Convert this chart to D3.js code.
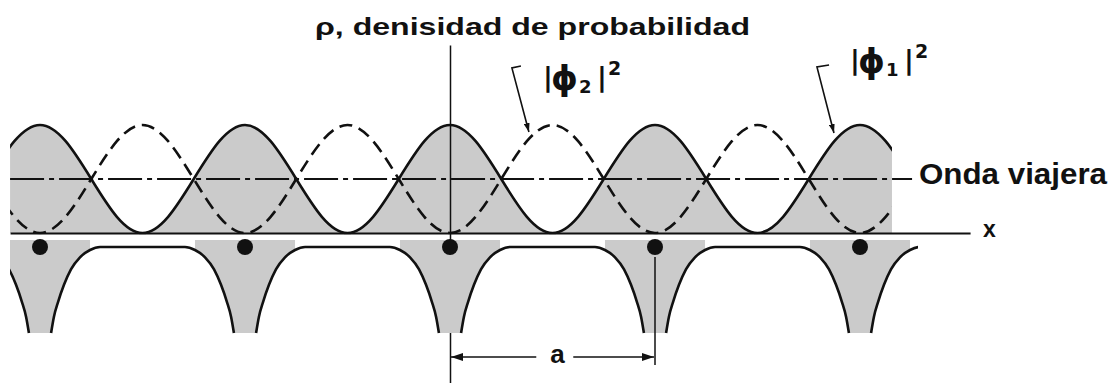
<!DOCTYPE html>
<html>
<head>
<meta charset="utf-8">
<title>Densidad de probabilidad</title>
<style>
  body { margin: 0; background: #fff; }
  text { font-family: "Liberation Sans", Arial, sans-serif; font-weight: bold; fill: #111; }
  .sym { font-family: "DejaVu Sans", sans-serif; }
</style>
</head>
<body>
<div id="viz"></div>
<script src="https://d3js.org/d3.v7.min.js"></script>
<script>
// lattice positions (units of a) and one period of each density
const ions = [-2, -1, 0, 1, 2];
const phaseSteps = [0, 0.125, 0.25, 0.375, 0.5, 0.625, 0.75, 0.875];
const phi1Profile = [1.00, 0.85, 0.50, 0.15, 0.00, 0.15, 0.50, 0.85];
const phi2Profile = [0.00, 0.15, 0.50, 0.85, 1.00, 0.85, 0.50, 0.15];
const travelling = 0.5;

// potential well: distance from ion (units of a) -> relative depth
const wellDist = [0.054, 0.068, 0.088, 0.117, 0.151, 0.195, 0.244, 0.293, 0.5];
const wellDepth = [-1.00, -0.81, -0.64, -0.44, -0.26, -0.12, -0.035, 0, 0];
const haloTop = 0.08;
const haloReach = 6; // last wellDist index shaded

// extents along x (units of a)
const curveRange = [-2.146, 2.156];
const waveRange = [-2.146, 2.254];
const potRange = [-2.146, 2.283];
const axisRange = [-2.146, 2.537];
const rhoAxisRange = [-1.39, 1.74];

// annotations (units of a, rho)
const leaders = [
  { pts: [[0.346, 1.546], [0.302, 1.528], [0.385, 0.935]] },
  { pts: [[1.849, 1.556], [1.790, 1.537], [1.873, 0.926]] }
];
const labels = [
  { u: 0.454, rho: 1.361, sub: '2' },
  { u: 1.951, rho: 1.519, sub: '1' }
];
const dimension = [0, 1];

const width = 1115, height = 383;

const svg = d3.select('#viz').append('svg')
  .attr('width', width)
  .attr('height', height);

const x = d3.scaleLinear().domain([-2, 2]).range([40, 860]);
const rho = d3.scaleLinear().domain([0, 1]).range([233, 125]);
const v = d3.scaleLinear().domain([-1, 0]).range([333, 247]);

const ink = '#111';
const grey = '#cbcbcb';

const defs = svg.append('defs');
defs.append('clipPath').attr('id', 'clipTop')
  .append('rect')
  .attr('x', x(curveRange[0])).attr('y', 0)
  .attr('width', x(curveRange[1]) - x(curveRange[0]))
  .attr('height', rho(0) + 1.5);
defs.append('clipPath').attr('id', 'clipBottom')
  .append('rect')
  .attr('x', x(potRange[0])).attr('y', rho(0) + 2)
  .attr('width', x(potRange[1]) - x(potRange[0]))
  .attr('height', 200);

function arrowMarker(id, len, half) {
  defs.append('marker')
    .attr('id', id)
    .attr('markerUnits', 'userSpaceOnUse')
    .attr('viewBox', `0 0 ${len} ${half * 2}`)
    .attr('refX', len).attr('refY', half)
    .attr('markerWidth', len).attr('markerHeight', half * 2)
    .attr('orient', 'auto')
    .append('path')
    .attr('d', `M0,0L${len},${half}L0,${half * 2}Z`)
    .attr('fill', ink);
}
arrowMarker('arrowSmall', 9, 3);
arrowMarker('arrowDim', 12, 4);

// periodic samples of a density profile
function tile(profile) {
  let pts = [];
  for (let k = -3; k <= 2; k++) {
    phaseSteps.forEach((p, i) => pts.push([k + p, profile[i]]));
  }
  pts.push([3, profile[0]]);
  return pts;
}

const phi1 = tile(phi1Profile);
const phi2 = tile(phi2Profile);

const line = d3.line()
  .x(d => x(d[0]))
  .y(d => rho(d[1]))
  .curve(d3.curveNatural);

const area = d3.area()
  .x(d => x(d[0]))
  .y0(rho(0))
  .y1(d => rho(d[1]))
  .curve(d3.curveNatural);

const topLayer = svg.append('g').attr('clip-path', 'url(#clipTop)');

topLayer.append('path')
  .attr('d', area(phi1))
  .attr('fill', grey);

topLayer.append('path')
  .attr('d', line(phi2))
  .attr('fill', 'none')
  .attr('stroke', ink)
  .attr('stroke-width', 2.6)
  .attr('stroke-dasharray', '13,7');

topLayer.append('path')
  .attr('d', line(phi1))
  .attr('fill', 'none')
  .attr('stroke', ink)
  .attr('stroke-width', 2.6);

// travelling wave level
svg.append('line')
  .attr('x1', x(waveRange[0])).attr('x2', x(waveRange[1]))
  .attr('y1', rho(travelling)).attr('y2', rho(travelling))
  .attr('stroke', ink)
  .attr('stroke-width', 1.8)
  .attr('stroke-dasharray', '34,5,5,5');

// x axis and rho axis
const xAxisScale = d3.scaleLinear().domain(axisRange).range(axisRange.map(x));
svg.append('g')
  .attr('transform', `translate(0,${rho(0)})`)
  .call(d3.axisBottom(xAxisScale).tickValues([]).tickSizeOuter(0))
  .select('.domain')
  .attr('stroke', ink)
  .attr('stroke-width', 2);

const rhoAxisScale = d3.scaleLinear().domain(rhoAxisRange).range(rhoAxisRange.map(rho));
svg.append('g')
  .attr('transform', `translate(${x(0)},0)`)
  .call(d3.axisLeft(rhoAxisScale).tickValues([]).tickSizeOuter(0))
  .select('.domain')
  .attr('stroke', ink)
  .attr('stroke-width', 1.5);

// potential wells
const bottomLayer = svg.append('g').attr('clip-path', 'url(#clipBottom)');

const vLine = d3.line()
  .x(d => x(d[0]))
  .y(d => v(d[1]))
  .curve(d3.curveMonotoneX);

const vArea = d3.area()
  .x(d => x(d[0]))
  .y0(v(haloTop))
  .y1(d => v(d[1]))
  .curve(d3.curveMonotoneX);

ions.forEach(c => {
  let pts = [];
  for (let i = haloReach; i >= 0; i--) pts.push([c - wellDist[i], wellDepth[i]]);
  for (let i = 0; i <= haloReach; i++) pts.push([c + wellDist[i], wellDepth[i]]);
  bottomLayer.append('path')
    .attr('d', vArea(pts))
    .attr('fill', grey);
});

for (let k = -3; k <= 2; k++) {
  let pts = [];
  for (let i = 0; i < wellDist.length; i++) pts.push([k + wellDist[i], wellDepth[i]]);
  for (let i = wellDist.length - 2; i >= 0; i--) pts.push([k + 1 - wellDist[i], wellDepth[i]]);
  bottomLayer.append('path')
    .attr('d', vLine(pts))
    .attr('fill', 'none')
    .attr('stroke', ink)
    .attr('stroke-width', 2.6);
}

// ions
svg.selectAll('.ion')
  .data(ions)
  .join('circle')
  .attr('class', 'ion')
  .attr('cx', d => x(d))
  .attr('cy', v(0))
  .attr('r', 8)
  .attr('fill', ink);

// lattice spacing a
svg.append('line')
  .attr('x1', x(dimension[1])).attr('x2', x(dimension[1]))
  .attr('y1', v(0) + 10).attr('y2', 365)
  .attr('stroke', ink)
  .attr('stroke-width', 1.5);

const aText = svg.append('text')
  .attr('x', x((dimension[0] + dimension[1]) / 2) + 5)
  .attr('y', 363)
  .attr('text-anchor', 'middle')
  .style('font-size', '26px')
  .text('a');
const ab = aText.node().getBBox();

svg.append('line')
  .attr('x1', ab.x - 14).attr('x2', x(dimension[0]) + 1)
  .attr('y1', 357).attr('y2', 357)
  .attr('stroke', ink).attr('stroke-width', 1.5)
  .attr('marker-end', 'url(#arrowDim)');
svg.append('line')
  .attr('x1', ab.x + ab.width + 8).attr('x2', x(dimension[1]) - 1)
  .attr('y1', 357).attr('y2', 357)
  .attr('stroke', ink).attr('stroke-width', 1.5)
  .attr('marker-end', 'url(#arrowDim)');

// leaders
leaders.forEach(l => {
  svg.append('path')
    .attr('d', d3.line().x(d => x(d[0])).y(d => rho(d[1]))(l.pts))
    .attr('fill', 'none')
    .attr('stroke', ink)
    .attr('stroke-width', 1.6)
    .attr('marker-end', 'url(#arrowSmall)');
});

// |phi|^2 labels
labels.forEach(l => {
  const x0 = x(l.u), y0 = rho(l.rho);
  const t = svg.append('text').attr('class', 'sym');
  t.append('tspan').attr('x', x0).attr('y', y0).style('font-size', '27px').text('|');
  t.append('tspan').attr('x', x0 + 8).attr('y', y0 + 4).style('font-size', '34px').text('ϕ');
  t.append('tspan').attr('x', x0 + 36).attr('y', y0 + 7).style('font-size', '18px').text(l.sub);
  t.append('tspan').attr('x', x0 + 54).attr('y', y0).style('font-size', '27px').text('|');
  t.append('tspan').attr('x', x0 + 65).attr('y', y0 - 11).style('font-size', '19px').text('2');
});

// titles
svg.append('text')
  .attr('x', 315).attr('y', 35)
  .attr('textLength', 435)
  .attr('lengthAdjust', 'spacingAndGlyphs')
  .style('font-size', '24px')
  .text('ρ, denisidad de probabilidad');

svg.append('text')
  .attr('x', 919).attr('y', 184)
  .attr('textLength', 188)
  .attr('lengthAdjust', 'spacingAndGlyphs')
  .style('font-size', '29px')
  .text('Onda viajera');

svg.append('text')
  .attr('x', 983).attr('y', 237)
  .style('font-size', '23px')
  .text('x');
</script>
</body>
</html>
